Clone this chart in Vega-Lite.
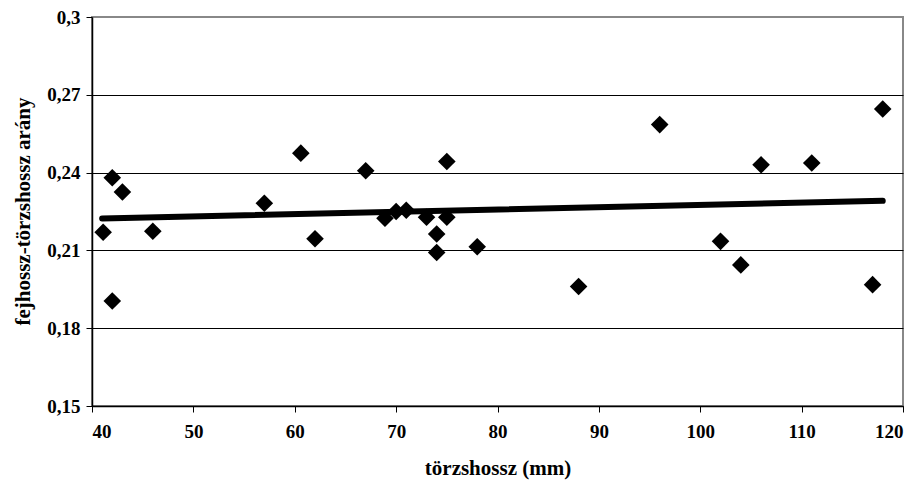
{
  "$schema": "https://vega.github.io/schema/vega-lite/v6.json",
  "autosize": "none",
  "width": 811,
  "height": 389,
  "padding": {"left": 92, "top": 17, "right": 17, "bottom": 80},
  "background": "white",
  "config": {
    "view": {"stroke": "#888888", "strokeWidth": 2},
    "font": "Liberation Serif"
  },
  "datasets": {
    "points": [
      {"x": 41.1, "y": 0.2170},
      {"x": 42.0, "y": 0.2380},
      {"x": 43.0, "y": 0.2325},
      {"x": 42.0, "y": 0.1905},
      {"x": 46.0, "y": 0.2174},
      {"x": 57.0, "y": 0.2282},
      {"x": 60.6, "y": 0.2475},
      {"x": 62.0, "y": 0.2145},
      {"x": 67.0, "y": 0.2407},
      {"x": 68.9, "y": 0.2224},
      {"x": 70.0, "y": 0.2250},
      {"x": 71.0, "y": 0.2255},
      {"x": 73.0, "y": 0.2228},
      {"x": 75.0, "y": 0.2228},
      {"x": 74.0, "y": 0.2163},
      {"x": 74.0, "y": 0.2092},
      {"x": 75.0, "y": 0.2443},
      {"x": 78.0, "y": 0.2114},
      {"x": 88.0, "y": 0.1961},
      {"x": 96.0, "y": 0.2585},
      {"x": 102.0, "y": 0.2135},
      {"x": 104.0, "y": 0.2044},
      {"x": 106.0, "y": 0.2430},
      {"x": 111.0, "y": 0.2437},
      {"x": 117.0, "y": 0.1968},
      {"x": 118.0, "y": 0.2645}
    ],
    "trend": [
      {"x": 41.0, "y": 0.2223},
      {"x": 118.0, "y": 0.2291}
    ]
  },
  "layer": [
    {
      "data": {"name": "points"},
      "mark": {"type": "point", "shape": "diamond", "filled": true, "color": "black", "opacity": 1, "size": 310},
      "encoding": {
        "x": {
          "field": "x", "type": "quantitative",
          "scale": {"domain": [40, 120], "nice": false, "zero": false},
          "axis": {
            "title": "törzshossz (mm)",
            "values": [40, 50, 60, 70, 80, 90, 100, 110, 120],
            "grid": false,
            "domainColor": "black", "domainWidth": 1.5,
            "tickColor": "black", "tickSize": 6, "tickWidth": 1,
            "labelFont": "Liberation Serif", "labelFontWeight": 700, "labelFontSize": 19, "labelColor": "black",
            "labelPadding": 10,
            "titleFont": "Liberation Serif", "titleFontWeight": 700, "titleFontSize": 21, "titleColor": "black",
            "titleY": 62, "titleBaseline": "middle"
          }
        },
        "y": {
          "field": "y", "type": "quantitative",
          "scale": {"domain": [0.15, 0.3], "nice": false, "zero": false},
          "axis": {
            "title": "fejhossz-törzshossz arány",
            "values": [0.15, 0.18, 0.21, 0.24, 0.27, 0.3],
            "labelExpr": "replace(format(datum.value, '.2~f'), '.', ',')",
            "grid": true,
            "gridColor": {"condition": {"test": "datum.value >= 0.3", "value": "#888888"}, "value": "black"},
            "gridWidth": 1,
            "domainColor": "black", "domainWidth": 1.5,
            "tickColor": "black", "tickSize": 6, "tickWidth": 1,
            "labelFont": "Liberation Serif", "labelFontWeight": 700, "labelFontSize": 19, "labelColor": "black",
            "labelPadding": 6,
            "titleFont": "Liberation Serif", "titleFontWeight": 700, "titleFontSize": 21, "titleColor": "black",
            "titleX": -69, "titleY": 194, "titleAngle": -90, "titleAlign": "center", "titleBaseline": "middle"
          }
        }
      }
    },
    {
      "data": {"name": "trend"},
      "mark": {"type": "line", "color": "black", "strokeWidth": 6, "strokeCap": "round"},
      "encoding": {
        "x": {"field": "x", "type": "quantitative"},
        "y": {"field": "y", "type": "quantitative"}
      }
    }
  ]
}
